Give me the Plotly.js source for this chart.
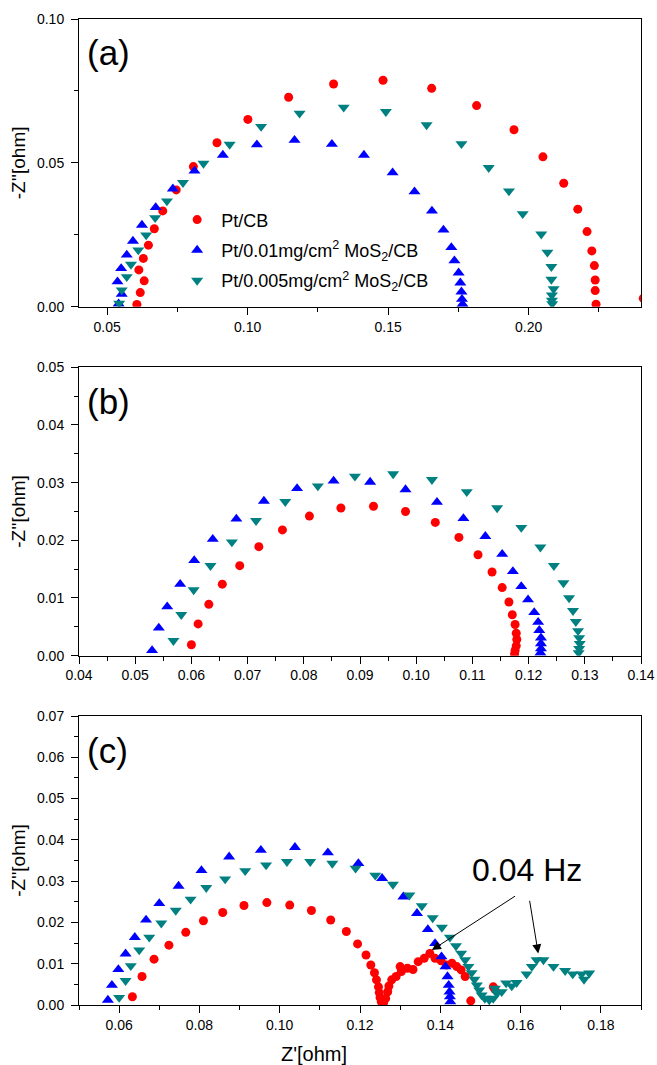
<!DOCTYPE html>
<html>
<head>
<meta charset="utf-8">
<script src="https://cdn.plot.ly/plotly-3.0.1.min.js"></script>
<style>html,body{margin:0;padding:0;background:#fff;}#chart{width:657px;height:1065px;}</style>
</head>
<body>
<div id="chart"></div>
<script>
// ---------- data ----------
const seriesNames = ["Pt/CB", "Pt/0.01mg/cm<sup>2</sup> MoS<sub>2</sub>/CB", "Pt/0.005mg/cm<sup>2</sup> MoS<sub>2</sub>/CB"];
const panelLabels = ["(a)", "(b)", "(c)"];

// panel (a)
const a_PtCB_x = [0.0606,0.0618,0.0632,0.0613,0.0629,0.0647,0.0668,0.0698,0.0746,0.0807,0.0891,0.1001,0.1146,0.1306,0.1482,0.1655,0.1815,0.1948,0.2051,0.2125,0.2175,0.2208,0.2225,0.2234,0.2237,0.2237,0.2240,0.2408];
const a_PtCB_y = [0.0008,0.0049,0.0090,0.0128,0.0168,0.0214,0.0271,0.0333,0.0406,0.0487,0.0570,0.0651,0.0728,0.0774,0.0787,0.0759,0.0699,0.0615,0.0521,0.0429,0.0339,0.0261,0.0194,0.0143,0.0093,0.0056,0.0009,0.0029];
const a_Mo01_x = [0.0541,0.0552,0.0537,0.0550,0.0570,0.0592,0.0624,0.0673,0.0734,0.0811,0.0912,0.1033,0.1167,0.1300,0.1414,0.1516,0.1594,0.1656,0.1697,0.1725,0.1736,0.1751,0.1757,0.1761,0.1763,0.1765];
const a_Mo01_y = [0.0010,0.0044,0.0087,0.0133,0.0180,0.0228,0.0284,0.0345,0.0410,0.0472,0.0527,0.0563,0.0579,0.0565,0.0527,0.0466,0.0400,0.0333,0.0267,0.0206,0.0160,0.0118,0.0083,0.0052,0.0026,0.0009];
const a_Mo005_x = [0.0543,0.0552,0.0570,0.0585,0.0611,0.0639,0.0671,0.0713,0.0770,0.0843,0.0936,0.1048,0.1185,0.1342,0.1492,0.1637,0.1761,0.1858,0.1930,0.1979,0.2045,0.2067,0.2081,0.2081,0.2089,0.2083,0.2083,0.2084];
const a_Mo005_y = [0.0012,0.0058,0.0104,0.0147,0.0197,0.0249,0.0309,0.0367,0.0431,0.0498,0.0564,0.0626,0.0672,0.0693,0.0678,0.0632,0.0566,0.0483,0.0402,0.0323,0.0252,0.0189,0.0139,0.0095,0.0062,0.0040,0.0022,0.0010];

// panel (b)
const b_PtCB_x = [0.0600,0.0612,0.0631,0.0655,0.0686,0.0720,0.0762,0.0810,0.0866,0.0924,0.0981,0.1034,0.1076,0.1110,0.1135,0.1153,0.1165,0.1171,0.1176,0.1178,0.1179,0.1178,0.1176,0.1175];
const b_PtCB_y = [0.0019,0.0055,0.0089,0.0124,0.0156,0.0189,0.0218,0.0242,0.0256,0.0259,0.0250,0.0231,0.0205,0.0175,0.0145,0.0118,0.0093,0.0071,0.0054,0.0039,0.0028,0.0017,0.0009,0.0003];
const b_Mo01_x = [0.0530,0.0542,0.0557,0.0580,0.0605,0.0638,0.0680,0.0729,0.0788,0.0853,0.0918,0.0981,0.1037,0.1084,0.1123,0.1153,0.1172,0.1187,0.1199,0.1210,0.1217,0.1219,0.1222,0.1222,0.1222,0.1221];
const b_Mo01_y = [0.0009,0.0048,0.0085,0.0124,0.0165,0.0202,0.0237,0.0268,0.0290,0.0303,0.0301,0.0288,0.0266,0.0238,0.0207,0.0176,0.0146,0.0120,0.0097,0.0075,0.0058,0.0044,0.0031,0.0021,0.0012,0.0005];
const b_Mo005_x = [0.0568,0.0582,0.0604,0.0634,0.0672,0.0715,0.0767,0.0825,0.0891,0.0959,0.1028,0.1090,0.1144,0.1187,0.1221,0.1245,0.1262,0.1272,0.1279,0.1284,0.1288,0.1290,0.1291,0.1290,0.1289];
const b_Mo005_y = [0.0026,0.0071,0.0114,0.0156,0.0197,0.0234,0.0267,0.0294,0.0311,0.0315,0.0305,0.0284,0.0256,0.0222,0.0188,0.0156,0.0126,0.0100,0.0078,0.0059,0.0043,0.0031,0.0021,0.0012,0.0005];

// panel (c)
const c_PtCB_x = [0.0633,0.0657,0.0687,0.0724,0.0766,0.0810,0.0858,0.0911,0.0968,0.1025,0.1079,0.1127,0.1166,0.1194,0.1215,0.1227,0.1236,0.1241,0.1246,0.1248,0.1250,0.1253,0.1259,0.1264,0.1269,0.1272,0.1279,0.1290,0.1303,0.1300,0.1318,0.1332,0.1345,0.1360,0.1374,0.1387,0.1402,0.1415,0.1429,0.1441,0.1452,0.1462,0.1476,0.1532,0.1536];
const c_PtCB_y = [0.0020,0.0069,0.0111,0.0145,0.0176,0.0204,0.0224,0.0241,0.0248,0.0242,0.0229,0.0206,0.0178,0.0148,0.0121,0.0097,0.0078,0.0061,0.0044,0.0030,0.0018,0.0008,0.0006,0.0016,0.0032,0.0046,0.0061,0.0069,0.0081,0.0093,0.0089,0.0086,0.0105,0.0113,0.0125,0.0113,0.0107,0.0097,0.0101,0.0093,0.0085,0.0069,0.0010,0.0044,0.0038];
const c_Mo01_x = [0.0572,0.0582,0.0598,0.0616,0.0639,0.0667,0.0700,0.0748,0.0805,0.0874,0.0953,0.1038,0.1120,0.1196,0.1255,0.1308,0.1342,0.1369,0.1387,0.1403,0.1413,0.1418,0.1421,0.1423,0.1424,0.1425];
const c_Mo01_y = [0.0012,0.0048,0.0086,0.0124,0.0164,0.0206,0.0246,0.0288,0.0326,0.0359,0.0375,0.0382,0.0369,0.0343,0.0307,0.0262,0.0222,0.0183,0.0149,0.0117,0.0093,0.0069,0.0048,0.0032,0.0020,0.0008];
const c_Mo005_x = [0.0600,0.0616,0.0629,0.0650,0.0675,0.0705,0.0741,0.0778,0.0817,0.0864,0.0914,0.0966,0.1018,0.1076,0.1131,0.1189,0.1238,0.1282,0.1323,0.1354,0.1381,0.1404,0.1424,0.1439,0.1452,0.1462,0.1470,0.1478,0.1485,0.1491,0.1497,0.1503,0.1511,0.1522,0.1532,0.1541,0.1536,0.1553,0.1564,0.1578,0.1590,0.1615,0.1628,0.1640,0.1657,0.1682,0.1711,0.1730,0.1752,0.1758,0.1771];
const c_Mo005_y = [0.0018,0.0059,0.0095,0.0133,0.0164,0.0198,0.0229,0.0256,0.0284,0.0305,0.0325,0.0339,0.0347,0.0347,0.0343,0.0331,0.0314,0.0292,0.0266,0.0240,0.0211,0.0188,0.0164,0.0143,0.0125,0.0109,0.0093,0.0078,0.0062,0.0048,0.0036,0.0024,0.0016,0.0012,0.0016,0.0028,0.0040,0.0032,0.0053,0.0046,0.0054,0.0075,0.0093,0.0109,0.0109,0.0093,0.0083,0.0075,0.0075,0.0062,0.0077];

// 0.04 Hz arrows (head and tail, data units of panel c)
const hzText = "0.04 Hz";
const hzTextPos = [0.1617, 0.0327];
const arrow1 = {head: [0.1379, 0.0133], tail: [0.1590, 0.0266]};
const arrow2 = {head: [0.1644, 0.0125], tail: [0.1622, 0.0256]};

// ---------- styling ----------
const FONT = "Liberation Sans, Arial, Helvetica, sans-serif";
const colors = ["#ff0000", "#0000ff", "#008080"];
const symbols = ["circle", "triangle-up", "triangle-down"];
const sizes = [9, 10.5, 10.5];

const panels = [
  {xs: [a_PtCB_x, a_Mo01_x, a_Mo005_x], ys: [a_PtCB_y, a_Mo01_y, a_Mo005_y], xa: "x", ya: "y"},
  {xs: [b_PtCB_x, b_Mo01_x, b_Mo005_x], ys: [b_PtCB_y, b_Mo01_y, b_Mo005_y], xa: "x2", ya: "y2"},
  {xs: [c_PtCB_x, c_Mo01_x, c_Mo005_x], ys: [c_PtCB_y, c_Mo01_y, c_Mo005_y], xa: "x3", ya: "y3"}
];

const traces = [];
panels.forEach((p, pi) => {
  for (let s = 0; s < 3; s++) {
    traces.push({
      type: "scatter", mode: "markers",
      x: p.xs[s], y: p.ys[s], xaxis: p.xa, yaxis: p.ya,
      name: seriesNames[s], showlegend: pi === 0, legendgroup: "g" + s,
      marker: {symbol: symbols[s], size: sizes[s], color: colors[s], line: {width: 0}}
    });
  }
});

function axis(range, dtick, minorDtick, domain, anchor, extra) {
  return Object.assign({
    range: range, dtick: dtick, tick0: 0, tickformat: ".2f",
    domain: domain, anchor: anchor,
    showline: true, linecolor: "#000", linewidth: 1, mirror: true,
    ticks: "outside", ticklen: 7, tickwidth: 1, tickcolor: "#000",
    showgrid: false, zeroline: false,
    tickfont: {family: FONT, size: 14, color: "#000"},
    minor: {dtick: minorDtick, tick0: 0, ticks: "outside", ticklen: 4, tickwidth: 1, tickcolor: "#000", showgrid: false}
  }, extra || {});
}

const ytitle = (t) => ({text: t, font: {family: FONT, size: 19, color: "#000"}, standoff: 6});
const yextra = (t) => ({title: ytitle(t), ticklabelstandoff: 4});

const layout = {
  width: 657, height: 1065,
  margin: {l: 79, r: 16, t: 19, b: 60},
  paper_bgcolor: "#fff", plot_bgcolor: "#fff",
  font: {family: FONT, color: "#000"},
  showlegend: true,
  legend: {x: 0.1675, y: 0.815, xanchor: "left", yanchor: "top", bgcolor: "rgba(0,0,0,0)",
           itemwidth: 38, tracegroupgap: 4,
           font: {family: FONT, size: 18, color: "#000"}},
  xaxis: axis([0.04, 0.24], 0.05, 0.025, [0, 1], "y"),
  yaxis: axis([0, 0.10], 0.05, 0.025, [0.7082, 1], "x", yextra("-Z''[ohm]")),
  xaxis2: axis([0.04, 0.14], 0.01, 0.005, [0, 1], "y2"),
  yaxis2: axis([0, 0.05], 0.01, 0.005, [0.3543, 0.6468], "x2", yextra("-Z''[ohm]")),
  xaxis3: axis([0.05, 0.19], 0.02, 0.01, [0, 1], "y3", {tick0: 0.06}),
  yaxis3: axis([0, 0.07], 0.01, 0.005, [0, 0.2931], "x3", yextra("-Z''[ohm]")),
  annotations: [
    {xref: "x domain", yref: "y domain", x: 0.01, y: 0.882, xanchor: "left", yanchor: "middle", showarrow: false,
     text: panelLabels[0], font: {family: FONT, size: 35, color: "#000"}},
    {xref: "x2 domain", yref: "y2 domain", x: 0.01, y: 0.881, xanchor: "left", yanchor: "middle", showarrow: false,
     text: panelLabels[1], font: {family: FONT, size: 35, color: "#000"}},
    {xref: "x3 domain", yref: "y3 domain", x: 0.01, y: 0.879, xanchor: "left", yanchor: "middle", showarrow: false,
     text: panelLabels[2], font: {family: FONT, size: 35, color: "#000"}},
    {xref: "paper", yref: "paper", x: (314 - 79) / 562, y: -0.05, xanchor: "center", yanchor: "middle", showarrow: false,
     text: "Z'[ohm]", font: {family: FONT, size: 20, color: "#000"}},
    {xref: "x3", yref: "y3", x: hzTextPos[0], y: hzTextPos[1], showarrow: false, text: hzText,
     font: {family: FONT, size: 32, color: "#000"}},
    {xref: "x3", yref: "y3", axref: "x3", ayref: "y3", x: arrow1.head[0], y: arrow1.head[1], ax: arrow1.tail[0], ay: arrow1.tail[1],
     text: "", showarrow: true, arrowhead: 2, arrowsize: 1.8, arrowwidth: 1, arrowcolor: "#000"},
    {xref: "x3", yref: "y3", axref: "x3", ayref: "y3", x: arrow2.head[0], y: arrow2.head[1], ax: arrow2.tail[0], ay: arrow2.tail[1],
     text: "", showarrow: true, arrowhead: 2, arrowsize: 1.8, arrowwidth: 1, arrowcolor: "#000"}
  ]
};

Plotly.newPlot("chart", traces, layout, {staticPlot: true, displayModeBar: false});
</script>
</body>
</html>
